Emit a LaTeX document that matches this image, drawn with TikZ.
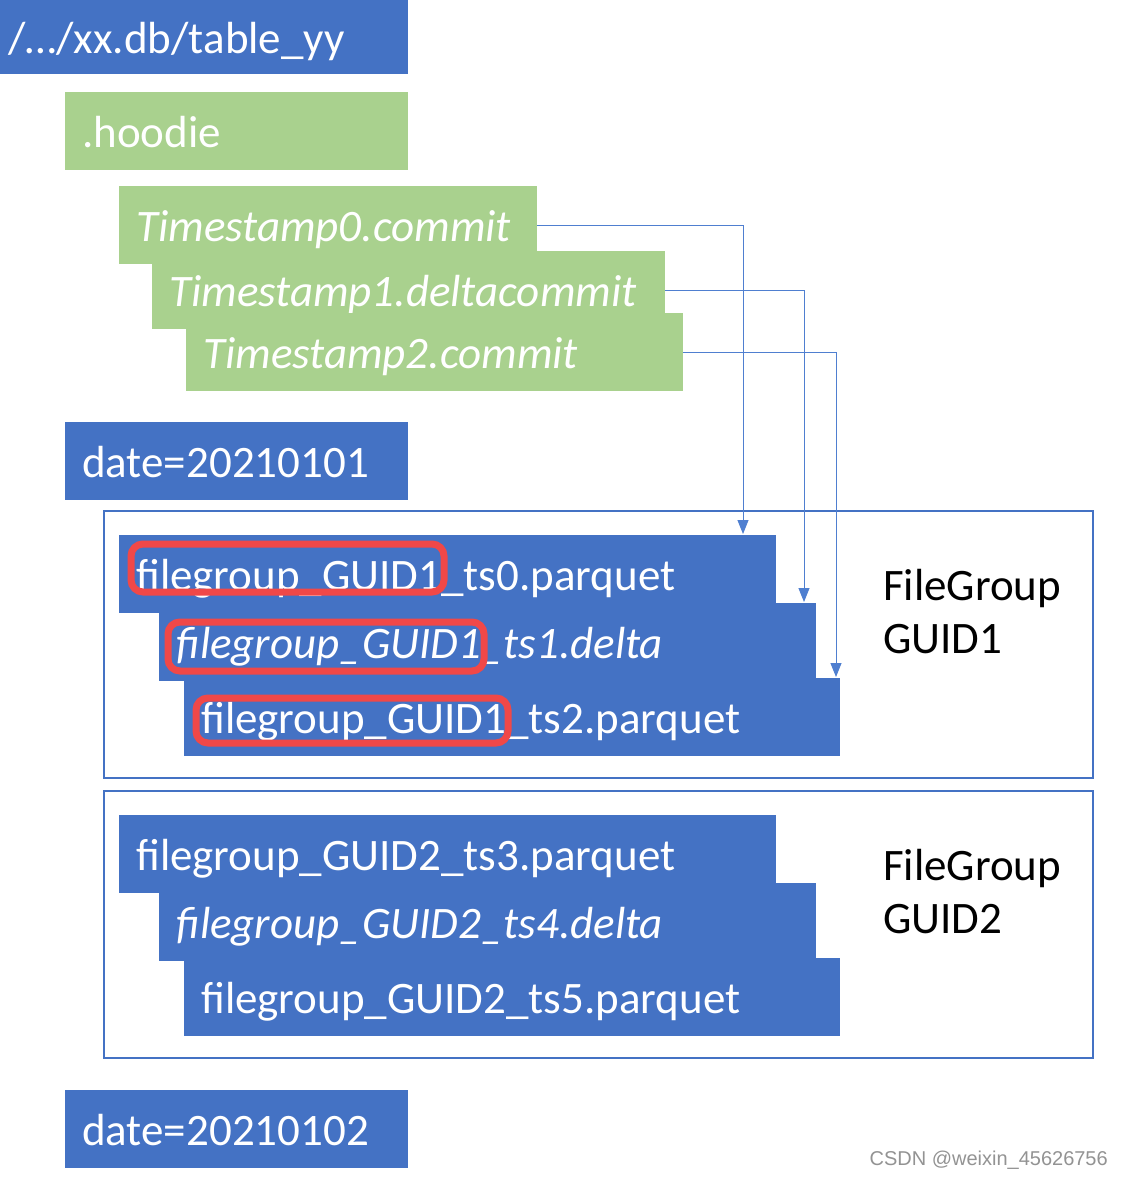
\documentclass[tikz,border=0pt]{standalone}
\usepackage{fontspec}
\setmainfont{Carlito}
\newfontfamily\markfont{Liberation Sans}
\usetikzlibrary{arrows.meta}
\definecolor{boxblue}{HTML}{4472C4}
\definecolor{boxgreen}{HTML}{A9D18E}
\definecolor{hlred}{HTML}{F04848}
\definecolor{lineblue}{HTML}{4F7FD0}
\begin{document}
\begin{tikzpicture}[x=1pt,y=-1pt,
    filebox/.style={anchor=north west, inner xsep=17pt, inner ysep=0pt, align=left,
      text=white, font=\fontsize{45}{54}\selectfont, text height=36pt, text depth=4pt,
      minimum height=78pt},
    bluebox/.style={filebox, fill=boxblue},
    greenbox/.style={filebox, fill=boxgreen},
    groupbox/.style={draw=boxblue, line width=2pt},
    commitline/.style={draw=lineblue, line width=1pt, -{Triangle[length=14pt,width=11pt]}},
    guidmark/.style={draw=hlred, line width=7pt, rounded corners=12pt},
    grouplabel/.style={anchor=base west, align=left, inner sep=0pt,
      font=\fontsize{45}{53}\selectfont}]
        \useasboundingbox[fill=white] (0,0) rectangle (1124,1178);

        % table directory and .hoodie folder
        \node[bluebox, minimum height=74pt, inner xsep=8pt, text width=392pt] (root) at (0,0) {/…/xx.db/table\_yy};
        \node[greenbox, text width=309pt] (hoodie) at (65,92) {.hoodie};

        % commit files on the timeline
        \node[greenbox, text width=384pt, font=\fontsize{45}{54}\selectfont\itshape] (ts0) at (119,186) {Timestamp0.commit};
        \node[greenbox, text width=479pt, font=\fontsize{45}{54}\selectfont\itshape] (ts1) at (152,251) {Timestamp1.deltacommit};
        \node[greenbox, text width=463pt, font=\fontsize{45}{54}\selectfont\itshape] (ts2) at (186,313) {Timestamp2.commit};

        % first partition
        \node[bluebox, text width=309pt] (day1) at (65,422) {date=20210101};

        \draw[groupbox] (104,511) rectangle (1093,778);
        \node[bluebox, text width=623pt] (fg0) at (119,535) {filegroup\_GUID1\_ts0.parquet};
        \node[bluebox, text width=623pt, font=\fontsize{45}{54}\selectfont\itshape] (fg1) at (159,603) {filegroup\_GUID1\_ts1.delta};
        \node[bluebox, text width=622pt] (fg2) at (184,678) {filegroup\_GUID1\_ts2.parquet};
        \node[grouplabel] (grp1) at (883,653) {FileGroup\\GUID1};

        % file group id marks
        \draw[guidmark] (131,544) rectangle (444,592);
        \draw[guidmark] (168,622) rectangle (484,671);
        \draw[guidmark] (196,698) rectangle (508,743);

        \draw[groupbox] (104,791) rectangle (1093,1058);
        \node[bluebox, text width=623pt] (fg3) at (119,815) {filegroup\_GUID2\_ts3.parquet};
        \node[bluebox, text width=623pt, font=\fontsize{45}{54}\selectfont\itshape] (fg4) at (159,883) {filegroup\_GUID2\_ts4.delta};
        \node[bluebox, text width=622pt] (fg5) at (184,958) {filegroup\_GUID2\_ts5.parquet};
        \node[grouplabel] (grp2) at (883,933) {FileGroup\\GUID2};

        % second partition
        \node[bluebox, text width=309pt] (day2) at (65,1090) {date=20210102};

        % commits point at the files they wrote
        \coordinate (in0) at (743,534);
        \coordinate (in1) at (804,602);
        \coordinate (in2) at (836,677);
        \draw[commitline] (ts0.east) -| (in0);
        \draw[commitline] (ts1.east) -| (in1);
        \draw[commitline] (ts2.east) -| (in2);

        \node[anchor=base east, inner sep=0pt, text=gray!85, font=\markfont\fontsize{20}{24}\selectfont] (mark) at (1108,1165) {CSDN @weixin\_45626756};
      \end{tikzpicture}
\end{document}
